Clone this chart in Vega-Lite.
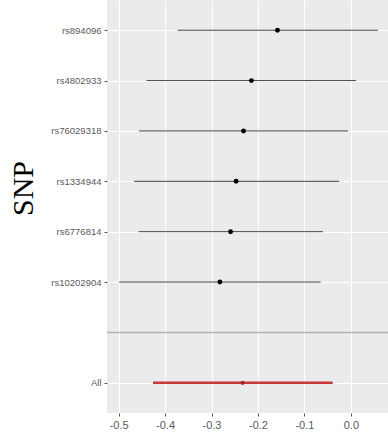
{
  "$schema": "https://vega.github.io/schema/vega-lite/v6.json",
  "width": 281,
  "height": 413,
  "autosize": "none",
  "padding": {"left": 107, "top": 0, "right": 0, "bottom": 24},
  "background": "white",
  "config": {
    "view": {"fill": "#ebebeb", "stroke": null},
    "font": "Liberation Sans"
  },
  "data": {
    "values": [
      {"SNP": "rs894096", "b": -0.158, "lo": -0.373, "hi": 0.058, "type": "SNP"},
      {"SNP": "rs4802933", "b": -0.214, "lo": -0.440, "hi": 0.011, "type": "SNP"},
      {"SNP": "rs76029318", "b": -0.231, "lo": -0.456, "hi": -0.006, "type": "SNP"},
      {"SNP": "rs1334944", "b": -0.247, "lo": -0.467, "hi": -0.025, "type": "SNP"},
      {"SNP": "rs6776814", "b": -0.259, "lo": -0.457, "hi": -0.060, "type": "SNP"},
      {"SNP": "rs10202904", "b": -0.282, "lo": -0.499, "hi": -0.065, "type": "SNP"},
      {"SNP": "All", "b": -0.233, "lo": -0.426, "hi": -0.039, "type": "All"}
    ]
  },
  "encoding": {
    "y": {
      "field": "SNP",
      "type": "nominal",
      "scale": {
        "type": "point",
        "padding": 0.6,
        "domain": ["rs894096", "rs4802933", "rs76029318", "rs1334944", "rs6776814", "rs10202904", " ", "All"]
      },
      "axis": {
        "values": ["rs894096", "rs4802933", "rs76029318", "rs1334944", "rs6776814", "rs10202904", "All"],
        "title": "SNP",
        "titleFont": "Liberation Serif",
        "titleFontSize": 30,
        "titleFontWeight": "normal",
        "titleColor": "#000000",
        "titleX": -69,
        "titleY": 188,
        "titleAngle": -90,
        "titleBaseline": "bottom",
        "titleAlign": "center",
        "domain": false,
        "grid": true,
        "gridColor": "#ffffff",
        "gridWidth": 1.1,
        "ticks": true,
        "tickSize": 3,
        "tickColor": "#555555",
        "labelColor": "#5a5a5a",
        "labelFontSize": 9.5,
        "labelPadding": 3
      }
    }
  },
  "layer": [
    {
      "data": {"values": [{"SNP": " "}]},
      "mark": {"type": "rule", "color": "#b3b3b3", "strokeWidth": 1.5},
      "encoding": {"y": {"field": "SNP", "type": "nominal"}}
    },
    {
      "mark": {"type": "rule"},
      "encoding": {
        "x": {
          "field": "lo",
          "type": "quantitative",
          "scale": {"domain": [-0.525, 0.08], "nice": false, "zero": false},
          "axis": {
            "title": null,
            "domain": false,
            "values": [-0.5, -0.45, -0.4, -0.35, -0.3, -0.25, -0.2, -0.15, -0.1, -0.05, 0, 0.05],
            "labelExpr": "abs(datum.value*10 - round(datum.value*10)) > 0.01 ? '' : replace(format(datum.value, '.1f'), '\u2212', '-')",
            "grid": true,
            "gridColor": "#ffffff",
            "gridWidth": {"condition": {"test": "abs(datum.value*10 - round(datum.value*10)) > 0.01", "value": 0.55}, "value": 1.1},
            "tickOpacity": {"condition": {"test": "abs(datum.value*10 - round(datum.value*10)) > 0.01", "value": 0}, "value": 1},
            "tickSize": 3,
            "tickColor": "#555555",
            "labelColor": "#5a5a5a",
            "labelFontSize": 11,
            "labelPadding": 3
          }
        },
        "x2": {"field": "hi"},
        "color": {"field": "type", "type": "nominal", "scale": {"domain": ["SNP", "All"], "range": ["#444444", "#c8373a"]}, "legend": null},
        "size": {"field": "type", "type": "nominal", "scale": {"domain": ["SNP", "All"], "range": [1, 2.6]}, "legend": null}
      }
    },
    {
      "mark": {"type": "point", "filled": true, "opacity": 1},
      "encoding": {
        "x": {"field": "b", "type": "quantitative"},
        "color": {"field": "type", "type": "nominal", "scale": {"domain": ["SNP", "All"], "range": ["#000000", "#a82a2e"]}, "legend": null},
        "size": {"field": "type", "type": "nominal", "scale": {"domain": ["SNP", "All"], "range": [24, 18]}, "legend": null}
      }
    },
    {
      "data": {"values": [{"x": 0}]},
      "mark": {"type": "rule", "color": "#333333", "strokeWidth": 1, "strokeDash": [1.2, 2.3]},
      "encoding": {"x": {"field": "x", "type": "quantitative"}}
    }
  ],
  "resolve": {"scale": {"color": "independent", "size": "independent"}}
}
